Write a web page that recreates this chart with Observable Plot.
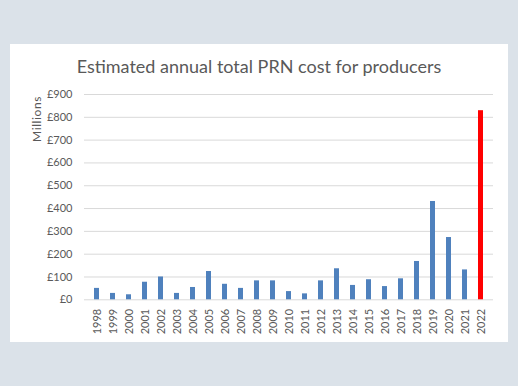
<!DOCTYPE html>
<html>
<head>
<meta charset="utf-8">
<script src="https://cdn.jsdelivr.net/npm/d3@7"></script>
<script src="https://cdn.jsdelivr.net/npm/@observablehq/plot@0.6"></script>
<style>
  html, body { margin: 0; padding: 0; background: #dbe2e9; width: 518px; height: 386px; overflow: hidden; }
  #panel { position: absolute; left: 10px; top: 44px; width: 498px; height: 298px; background: #ffffff; }
  #title { height: 44px; line-height: 44px; text-align: center; font-family: Lato, sans-serif; font-size: 18px; color: #595959; }
  #ylabel { position: absolute; left: 27px; top: 75px; transform: translate(-50%, -50%) rotate(-90deg); font-family: Lato, sans-serif; font-size: 12px; letter-spacing: 0.6px; color: #595959; white-space: nowrap; line-height: 14px; }
</style>
</head>
<body>
<div id="panel">
  <div id="title">Estimated annual total PRN cost for producers</div>
  <div id="ylabel">Millions</div>
  <div id="chart"></div>
</div>
<script>
const years = ["1998","1999","2000","2001","2002","2003","2004","2005","2006","2007","2008","2009","2010","2011","2012","2013","2014","2015","2016","2017","2018","2019","2020","2021","2022"];
const costs = [50, 28, 22, 77, 100, 28, 54, 124, 68, 50, 83, 83, 36, 26, 83, 136, 63, 88, 58, 92, 168, 431, 273, 131, 829];
const yTicks = [0, 100, 200, 300, 400, 500, 600, 700, 800, 900];
const highlightYear = "2022";

const data = years.map((y, i) => ({year: y, cost: costs[i]}));

const chart = Plot.plot({
  width: 498,
  height: 254,
  marginLeft: 74,
  marginRight: 15,
  marginTop: 6,
  marginBottom: 42.7,
  style: {fontFamily: "Lato, sans-serif", fontSize: "11px", color: "#595959", background: "transparent"},
  x: {domain: years, paddingInner: 0.68, paddingOuter: 0.34, label: null},
  y: {domain: [0, 900], label: null},
  marks: [
    Plot.gridY(yTicks, {stroke: "#d9d9d9", strokeOpacity: 1, strokeWidth: 1}),
    Plot.barY(data, {x: "year", y: "cost", fill: d => d.year === highlightYear ? "#ff0000" : "#4f81bd"}),
    Plot.axisY(yTicks, {tickSize: 0, tickPadding: 12, tickFormat: d => "£" + d, fill: "#595959", fontSize: 11}),
    Plot.axisX({tickSize: 0, tickPadding: 9, tickRotate: -90, fill: "#595959", fontSize: 11})
  ]
});
document.getElementById("chart").appendChild(chart);
</script>
</body>
</html>
